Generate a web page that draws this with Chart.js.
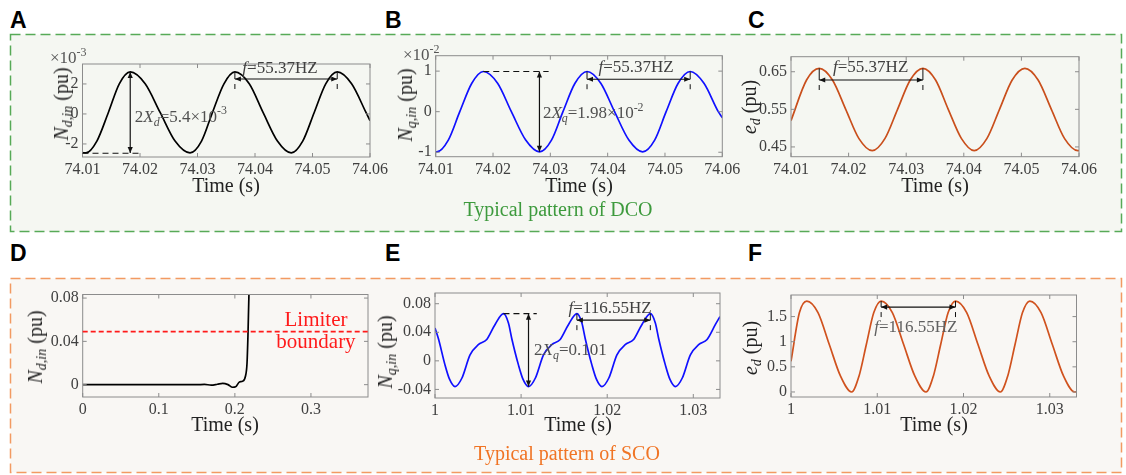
<!DOCTYPE html>
<html>
<head>
<meta charset="utf-8">
<script src="https://cdn.jsdelivr.net/npm/chart.js@4.4.0/dist/chart.umd.min.js"></script>
<style>
  body { margin: 0; background: #fff; }
  #fig { position: relative; width: 1126px; height: 475px; overflow: hidden; font-family: 'Liberation Serif', serif; }
  #fig svg { position: absolute; left: 0; top: 0; }
  canvas { position: absolute; }
  .lt { position: absolute; font: bold 23px 'Liberation Sans', Arial, sans-serif; line-height: 1; color: #000; }
  .yl { position: absolute; font-size: 20px; line-height: 1; white-space: nowrap; color: #222;
        transform: translate(-50%, -50%) rotate(-90deg); }
  .xl { position: absolute; font-size: 20px; line-height: 1; white-space: nowrap; color: #222; transform: translateX(-50%); }
  .ex { position: absolute; font-size: 17px; line-height: 1; color: #555; white-space: nowrap; }
  .ex sup { font-size: 12px; vertical-align: 7px; }
  .cap { position: absolute; font-size: 20px; line-height: 1; white-space: nowrap; transform: translateX(-50%); }
  sub { font-size: 70%; vertical-align: -4px; }
</style>
</head>
<body>
<div id="fig">
  <svg width="1126" height="475">
    <rect x="10.5" y="34.5" width="1111" height="197" fill="#f5f7f2" stroke="#57aa57" stroke-width="1.5" stroke-dasharray="10 5"/>
    <rect x="10.5" y="278.5" width="1111" height="194" fill="#f9f7f4" stroke="#f29a62" stroke-width="1.5" stroke-dasharray="10 5"/>
  </svg>

  <div class="lt" style="left:10px;top:9px">A</div>
  <div class="lt" style="left:385px;top:9px">B</div>
  <div class="lt" style="left:748px;top:9px">C</div>
  <div class="lt" style="left:10px;top:242px">D</div>
  <div class="lt" style="left:385px;top:242px">E</div>
  <div class="lt" style="left:748px;top:242px">F</div>

  <canvas id="cA"></canvas>
  <canvas id="cB"></canvas>
  <canvas id="cC"></canvas>
  <canvas id="cD"></canvas>
  <canvas id="cE"></canvas>
  <canvas id="cF"></canvas>

  <div class="ex" style="left:50px;top:46px">×10<sup>-3</sup></div>
  <div class="ex" style="left:403px;top:43px">×10<sup>-2</sup></div>

  <div class="yl" style="left:63px;top:104px"><i>N</i><sub><i>d,in</i></sub> (pu)</div>
  <div class="yl" style="left:407px;top:105px"><i>N</i><sub><i>q,in</i></sub> (pu)</div>
  <div class="yl" style="left:751px;top:107px"><i>e</i><sub><i>d</i></sub> (pu)</div>
  <div class="yl" style="left:37px;top:347px"><i>N</i><sub><i>d,in</i></sub> (pu)</div>
  <div class="yl" style="left:387px;top:352px"><i>N</i><sub><i>q,in</i></sub> (pu)</div>
  <div class="yl" style="left:752px;top:348px"><i>e</i><sub><i>d</i></sub> (pu)</div>

  <div class="xl" style="left:226px;top:175px">Time (s)</div>
  <div class="xl" style="left:579px;top:175px">Time (s)</div>
  <div class="xl" style="left:935px;top:175px">Time (s)</div>
  <div class="xl" style="left:225px;top:414px">Time (s)</div>
  <div class="xl" style="left:578px;top:414px">Time (s)</div>
  <div class="xl" style="left:934px;top:414px">Time (s)</div>

  <div class="cap" style="left:558px;top:199px;color:#3d9a3d">Typical pattern of DCO</div>
  <div class="cap" style="left:567px;top:443px;color:#f07424">Typical pattern of SCO</div>
</div>

<script>
// valeurs

// A : N_d,in (x10^-3)
const aTime = [74.0100, 74.0106, 74.0125, 74.0145, 74.0164, 74.0183, 74.0209, 74.0235, 74.0261, 74.0287,
               74.0307, 74.0326, 74.0346, 74.0365, 74.0390, 74.0414, 74.0439, 74.0463, 74.0483, 74.0503,
               74.0523, 74.0543, 74.0568, 74.0593, 74.0600];
const aNd = [-2.58, -2.60, -1.81, 0.10, 2.01, 2.80, 2.01, 0.10, -1.81, -2.60,
             -1.81, 0.10, 2.01, 2.80, 2.01, 0.10, -1.81, -2.60, -1.81, 0.10,
             2.01, 2.80, 2.01, 0.10, -0.45];

// B : N_q,in (x10^-2)
const bTime = [74.0100, 74.0102, 74.0122, 74.0142, 74.0163, 74.0183, 74.0208, 74.0232, 74.0257, 74.0281,
               74.0302, 74.0322, 74.0343, 74.0364, 74.0388, 74.0412, 74.0437, 74.0461, 74.0482, 74.0502,
               74.0523, 74.0544, 74.0568, 74.0593, 74.0600];
const bNq = [-0.99, -0.99, -0.70, 0, 0.70, 0.99, 0.70, 0, -0.70, -0.99,
             -0.70, 0, 0.70, 0.99, 0.70, 0, -0.70, -0.99, -0.70, 0,
             0.70, 0.99, 0.70, 0, -0.15];

// C : e_d
const cTime = [74.0100, 74.0127, 74.0149, 74.0172, 74.0195, 74.0218, 74.0241, 74.0263, 74.0285, 74.0307,
               74.0329, 74.0351, 74.0373, 74.0396, 74.0418, 74.0440, 74.0462, 74.0484, 74.0506, 74.0529,
               74.0552, 74.0575, 74.0598, 74.0600];
const cEd = [0.52, 0.628, 0.659, 0.628, 0.55, 0.472, 0.44, 0.472, 0.55, 0.628,
             0.659, 0.628, 0.55, 0.472, 0.44, 0.472, 0.55, 0.628, 0.659, 0.628,
             0.55, 0.472, 0.44, 0.44];

// D : N_d,in jusqu'au limiteur
const dTime = [0, 0.05, 0.10, 0.150, 0.160, 0.169, 0.177, 0.184, 0.191, 0.197,
               0.201, 0.206, 0.210, 0.214, 0.216, 0.2172, 0.2185, 0.2195];
const dNd = [0, 0, 0, 0, 0.0002, -0.0004, 0.0004, 0.0012, 0.0000, -0.0024,
             -0.0020, 0.0025, 0.0032, 0.0080, 0.020, 0.045, 0.083, 0.1];
const dLimit = 0.049;

// E : N_q,in (SCO)
const eTime = [1.0000, 1.0004, 1.00116, 1.0017, 1.00233, 1.00313, 1.00407, 1.00503, 1.00601, 1.00698,
               1.00795, 1.00853, 1.00892, 1.00969, 1.01023, 1.01086, 1.01166, 1.0126, 1.01356, 1.01454,
               1.01551, 1.01648, 1.01706, 1.01745, 1.01822, 1.01876, 1.01939, 1.02019, 1.02113, 1.02209,
               1.02307, 1.02404, 1.02501, 1.02559, 1.02598, 1.02675, 1.02729, 1.02792, 1.02872, 1.02966,
               1.03062, 1.0316, 1.03257, 1.0331];
const eNq = [0.046, 0.031, -0.0056, -0.026, -0.036, -0.024, 0.0085, 0.0226, 0.030, 0.051,
             0.066, 0.053, 0.031, -0.0056, -0.026, -0.036, -0.024, 0.0085, 0.0226, 0.030,
             0.051, 0.066, 0.053, 0.031, -0.0056, -0.026, -0.036, -0.024, 0.0085, 0.0226,
             0.030, 0.051, 0.066, 0.053, 0.031, -0.0056, -0.026, -0.036, -0.024, 0.0085,
             0.0226, 0.030, 0.051, 0.062];

// F : e_d (SCO)
const fTime = [1.0000, 1.00098, 1.00183, 1.00313, 1.00443, 1.00573, 1.00703, 1.00789, 1.00874, 1.0096,
               1.01045, 1.01175, 1.01305, 1.01435, 1.01565, 1.01651, 1.01736, 1.01822, 1.01907, 1.02037,
               1.02167, 1.02297, 1.02427, 1.02513, 1.02598, 1.02684, 1.02769, 1.02899, 1.03029, 1.03159,
               1.03289, 1.0331];
const fEd = [0.61, 1.58, 1.81, 1.58, 0.95, 0.32, 0.00, 0.32, 0.95, 1.58,
             1.81, 1.58, 0.95, 0.32, 0.00, 0.32, 0.95, 1.58, 1.81, 1.58,
             0.95, 0.32, 0.00, 0.32, 0.95, 1.58, 1.81, 1.58, 0.95, 0.32,
             0.00, 0.01];

// graduations
const dcoTicks = [74.01, 74.02, 74.03, 74.04, 74.05, 74.06];
const dcoLabels = ['74.01', '74.02', '74.03', '74.04', '74.05', '74.06'];
const aYTicks = [-2, 0, 2];
const aYLabels = ['-2', '0', '2'];
const bYTicks = [-1, 0, 1];
const bYLabels = ['-1', '0', '1'];
const cYTicks = [0.45, 0.55, 0.65];
const cYLabels = ['0.45', '0.55', '0.65'];
const dXTicks = [0, 0.1, 0.2, 0.3];
const dXLabels = ['0', '0.1', '0.2', '0.3'];
const dYTicks = [0, 0.04, 0.08];
const dYLabels = ['0', '0.04', '0.08'];
const scoTicks = [1, 1.01, 1.02, 1.03];
const scoLabels = ['1', '1.01', '1.02', '1.03'];
const eYTicks = [-0.04, 0, 0.04, 0.08];
const eYLabels = ['-0.04', '0', '0.04', '0.08'];
const fYTicks = [0, 0.5, 1, 1.5];
const fYLabels = ['0', '0.5', '1', '1.5'];

const SERIF = '"Liberation Serif", serif';

// cadre gris + petites graduations vers l'intérieur (style Matlab)
const frame = {
    id: 'frame',
    afterDatasetsDraw(chart) {
        const { ctx, chartArea: a, scales: { x, y } } = chart;
        ctx.save();
        ctx.strokeStyle = '#8c8c8c';
        ctx.lineWidth = 1;
        ctx.strokeRect(a.left, a.top, a.right - a.left, a.bottom - a.top);
        ctx.beginPath();
        x.ticks.forEach(t => {
            const px = x.getPixelForValue(t.value);
            ctx.moveTo(px, a.bottom); ctx.lineTo(px, a.bottom - 4);
            ctx.moveTo(px, a.top); ctx.lineTo(px, a.top + 4);
        });
        y.ticks.forEach(t => {
            const py = y.getPixelForValue(t.value);
            ctx.moveTo(a.left, py); ctx.lineTo(a.left + 4, py);
            ctx.moveTo(a.right, py); ctx.lineTo(a.right - 4, py);
        });
        ctx.stroke();
        ctx.restore();
    }
};

function head(ctx, x, y, dx, dy) {
    // pointe de flèche pleine
    const L = 6, w = 2.6;
    ctx.beginPath();
    ctx.moveTo(x, y);
    ctx.lineTo(x - dx * L - dy * w, y - dy * L + dx * w);
    ctx.lineTo(x - dx * L + dy * w, y - dy * L - dx * w);
    ctx.closePath();
    ctx.fill();
}

function runsWidth(ctx, n) {
    let w = 0;
    n.runs.forEach(([s, f]) => {
        const sz = (f.includes('s') || f.includes('p')) ? n.size * 0.7 : n.size;
        ctx.font = (f.includes('i') ? 'italic ' : '') + sz + 'px ' + SERIF;
        w += ctx.measureText(s).width;
    });
    return w;
}

// annotations (flèches, pointillés, textes) placées en coordonnées de données
function notes(list) {
    return {
        id: 'notes',
        afterDatasetsDraw(chart) {
            const { ctx, scales: { x, y } } = chart;
            const X = v => x.getPixelForValue(v);
            const Y = v => y.getPixelForValue(v);
            ctx.save();
            list.forEach(n => {
                ctx.strokeStyle = n.color || '#111';
                ctx.fillStyle = n.color || '#111';
                ctx.lineWidth = n.w || 1.2;
                if (n.k === 'dash') {
                    ctx.setLineDash(n.dash || [6, 4]);
                    ctx.beginPath();
                    ctx.moveTo(X(n.x0), Y(n.y)); ctx.lineTo(X(n.x1), Y(n.y));
                    ctx.stroke();
                    ctx.setLineDash([]);
                } else if (n.k === 'varrow') {
                    const px = X(n.x), p0 = Y(n.y0), p1 = Y(n.y1);
                    ctx.beginPath(); ctx.moveTo(px, p0); ctx.lineTo(px, p1); ctx.stroke();
                    head(ctx, px, p0, 0, 1);
                    head(ctx, px, p1, 0, -1);
                } else if (n.k === 'harrow') {
                    const p0 = X(n.x0), p1 = X(n.x1), py = Y(n.y), pt = Y(n.top);
                    ctx.beginPath(); ctx.moveTo(p0, py); ctx.lineTo(p1, py); ctx.stroke();
                    head(ctx, p0, py, -1, 0);
                    head(ctx, p1, py, 1, 0);
                    ctx.lineWidth = 1;
                    ctx.beginPath();
                    [p0, p1].forEach(px => {
                        ctx.moveTo(px, pt); ctx.lineTo(px, py);
                        ctx.moveTo(px, py + 5); ctx.lineTo(px, py + 10);
                    });
                    ctx.stroke();
                } else if (n.k === 'text') {
                    let cx = X(n.x);
                    const by = Y(n.y);
                    if (n.align === 'center') cx -= runsWidth(ctx, n) / 2;
                    ctx.textBaseline = 'alphabetic';
                    ctx.textAlign = 'left';
                    n.runs.forEach(([s, f]) => {
                        const small = f.includes('s') || f.includes('p');
                        const sz = small ? n.size * 0.7 : n.size;
                        ctx.font = (f.includes('i') ? 'italic ' : '') + sz + 'px ' + SERIF;
                        const dy = f.includes('s') ? n.size * 0.25 : f.includes('p') ? -n.size * 0.42 : 0;
                        ctx.fillText(s, cx, by + dy);
                        cx += ctx.measureText(s).width;
                    });
                }
            });
            ctx.restore();
        }
    };
}

function pts(xs, ys) {
    return xs.map((x, i) => ({ x: x, y: ys[i] }));
}

function makeChart(id, box, xs, ys, color, xr, yr, xTicks, xLabels, yTicks, yLabels, list) {
    const cv = document.getElementById(id);
    const L = Math.floor(box.l) - 60, T = Math.floor(box.t) - 14;
    const W = Math.ceil(box.r) + 26 - L, H = Math.ceil(box.b) + 30 - T;
    cv.style.left = L + 'px';
    cv.style.top = T + 'px';
    cv.width = W;
    cv.height = H;

    const tickFont = { family: SERIF, size: 16 };
    new Chart(cv, {
        type: 'line',
        data: {
            datasets: [{
                data: pts(xs, ys),
                borderColor: color,
                borderWidth: 1.7,
                pointRadius: 0,
                fill: false,
                cubicInterpolationMode: 'monotone',
            }],
        },
        options: {
            responsive: false,
            animation: false,
            events: [],
            layout: {
                padding: { left: box.l - L - 60, top: box.t - T, right: L + W - box.r, bottom: T + H - box.b - 30 },
            },
            plugins: { legend: { display: false }, tooltip: { enabled: false } },
            scales: {
                x: {
                    type: 'linear', min: xr[0], max: xr[1],
                    afterFit: s => { s.height = 30; },
                    afterBuildTicks: s => { s.ticks = xTicks.map(v => ({ value: v })); },
                    grid: { display: false, drawTicks: false },
                    border: { display: false },
                    ticks: { autoSkip: false, maxRotation: 0, padding: 3, color: '#404040', font: tickFont,
                             callback: (v, i) => xLabels[i] },
                },
                y: {
                    type: 'linear', min: yr[0], max: yr[1],
                    afterFit: s => { s.width = 60; },
                    afterBuildTicks: s => { s.ticks = yTicks.map(v => ({ value: v })); },
                    grid: { display: false, drawTicks: false },
                    border: { display: false },
                    ticks: { autoSkip: false, padding: 4, color: '#404040', font: tickFont,
                             callback: (v, i) => yLabels[i] },
                },
            },
        },
        plugins: [frame, notes(list)],
    });
}

const fHz55 = [['f', 'i'], ['=55.37HZ', '']];
const fHz116 = [['f', 'i'], ['=116.55HZ', '']];

makeChart('cA', { l: 82.5, t: 64, r: 370, b: 157 }, aTime, aNd, '#000000',
    [74.01, 74.06], [-2.87, 3.33], dcoTicks, dcoLabels, aYTicks, aYLabels, [
        { k: 'dash', x0: 74.01, x1: 74.0202, y: -2.62 },
        { k: 'varrow', x: 74.0183, y0: -2.60, y1: 2.80 },
        { k: 'text', x: 74.0191, y: -0.51, size: 17, color: '#505050',
          runs: [['2', ''], ['X', 'i'], ['d', 'is'], ['=5.4×10', ''], ['-3', 'p']] },
        { k: 'harrow', x0: 74.0365, x1: 74.0543, y: 2.33, top: 2.80 },
        { k: 'text', x: 74.0378, y: 2.70, size: 17, color: '#404040', runs: fHz55 },
    ]);

makeChart('cB', { l: 435.7, t: 55.7, r: 722.3, b: 156.7 }, bTime, bNq, '#1010ff',
    [74.01, 74.06], [-1.11, 1.38], dcoTicks, dcoLabels, bYTicks, bYLabels, [
        { k: 'dash', x0: 74.0183, x1: 74.0297, y: 0.99 },
        { k: 'varrow', x: 74.0281, y0: -0.99, y1: 0.99 },
        { k: 'text', x: 74.0287, y: -0.155, size: 17, color: '#505050',
          runs: [['2', ''], ['X', 'i'], ['q', 'is'], ['=1.98×10', ''], ['-2', 'p']] },
        { k: 'harrow', x0: 74.0364, x1: 74.0544, y: 0.80, top: 0.99 },
        { k: 'text', x: 74.0384, y: 0.99, size: 17, color: '#404040', runs: fHz55 },
    ]);

makeChart('cC', { l: 791, t: 56.7, r: 1079, b: 156.7 }, cTime, cEd, '#c94f1c',
    [74.01, 74.06], [0.424, 0.69], dcoTicks, dcoLabels, cYTicks, cYLabels, [
        { k: 'harrow', x0: 74.0149, x1: 74.0329, y: 0.628, top: 0.659 },
        { k: 'text', x: 74.0173, y: 0.65, size: 17, color: '#404040', runs: fHz55 },
    ]);

makeChart('cD', { l: 82.7, t: 294.5, r: 368, b: 397 }, dTime, dNd, '#000000',
    [0, 0.375], [-0.0114, 0.0833], dXTicks, dXLabels, dYTicks, dYLabels, [
        { k: 'dash', x0: 0, x1: 0.375, y: dLimit, color: '#ff1a1a', dash: [5, 3], w: 1.6 },
        { k: 'text', x: 0.3066, y: 0.0539, size: 21, color: '#ff1a1a', align: 'center', runs: [['Limiter', '']] },
        { k: 'text', x: 0.3066, y: 0.0339, size: 21, color: '#ff1a1a', align: 'center', runs: [['boundary', '']] },
    ]);

makeChart('cE', { l: 435, t: 293, r: 720, b: 398 }, eTime, eNq, '#1010ff',
    [1, 1.0331], [-0.052, 0.095], scoTicks, scoLabels, eYTicks, eYLabels, [
        { k: 'dash', x0: 1.00795, x1: 1.01182, y: 0.066 },
        { k: 'varrow', x: 1.01086, y0: -0.036, y1: 0.066 },
        { k: 'text', x: 1.01151, y: 0.0085, size: 17, color: '#505050',
          runs: [['2', ''], ['X', 'i'], ['q', 'is'], ['=0.101', '']] },
        { k: 'harrow', x0: 1.01648, x1: 1.02501, y: 0.057, top: 0.066 },
        { k: 'text', x: 1.0155, y: 0.067, size: 17, color: '#404040', runs: fHz116 },
    ]);

makeChart('cF', { l: 791, t: 295, r: 1076.5, b: 397 }, fTime, fEd, '#d0521e',
    [1, 1.0331], [-0.1, 1.93], scoTicks, scoLabels, fYTicks, fYLabels, [
        { k: 'harrow', x0: 1.01045, x1: 1.01907, y: 1.69, top: 1.81 },
        { k: 'text', x: 1.00965, y: 1.20, size: 17, color: '#606060', runs: fHz116 },
    ]);
</script>
</body>
</html>
